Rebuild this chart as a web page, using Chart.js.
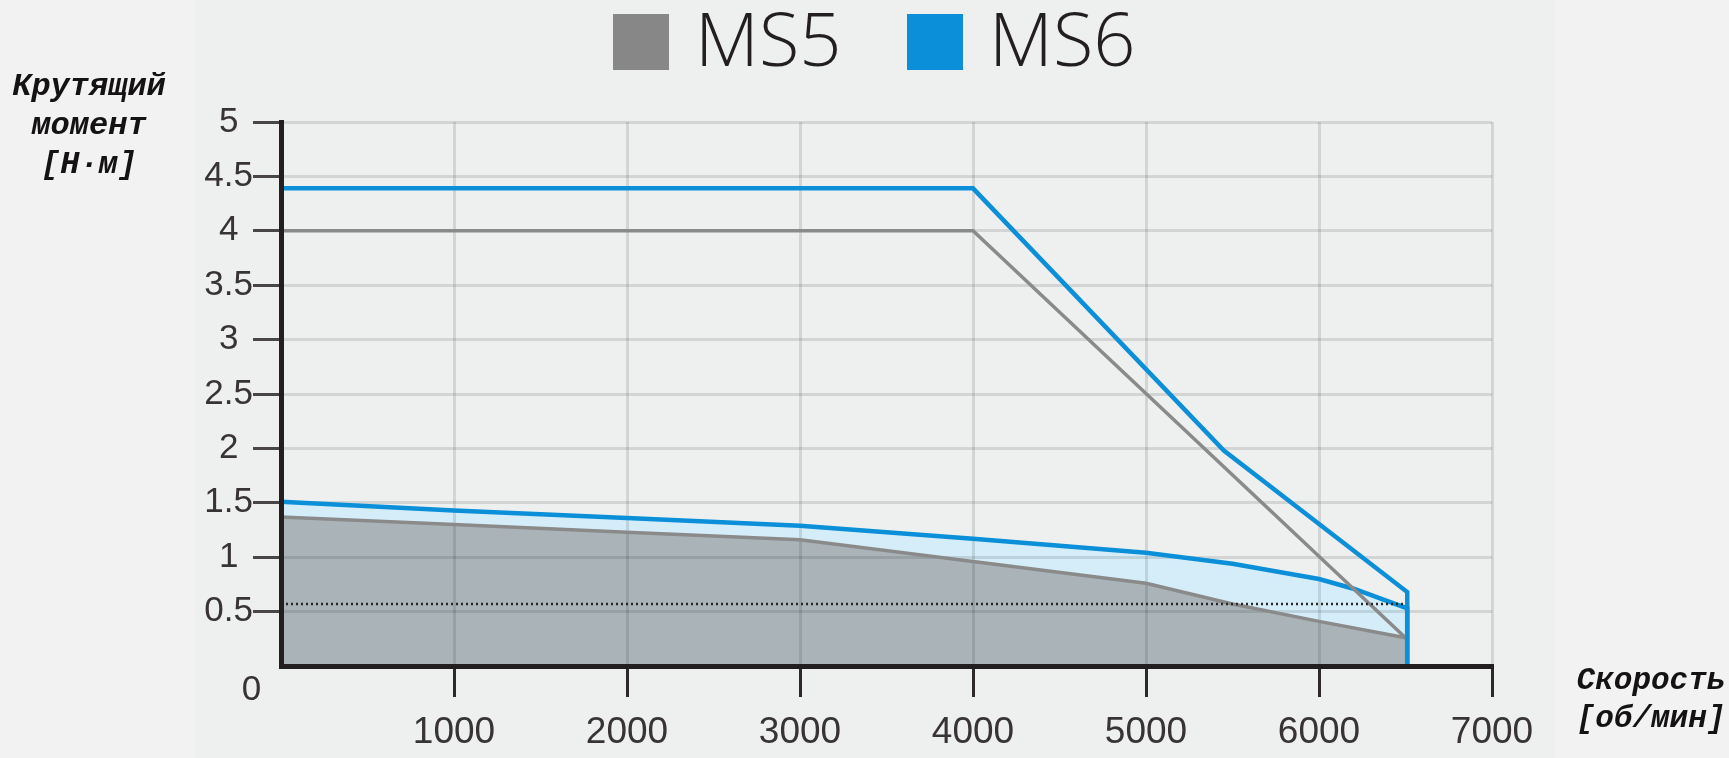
<!DOCTYPE html>
<html lang="ru">
<head>
<meta charset="utf-8">
<title>MS5 / MS6 — крутящий момент</title>
<script src="https://cdn.jsdelivr.net/npm/chart.js@4.4.1/dist/chart.umd.min.js"></script>
<style>
  html, body { margin: 0; padding: 0; }
  body { width: 1729px; height: 758px; background: #f2f2f2; position: relative; overflow: hidden; }
  #panel { position: absolute; left: 195px; top: 0; width: 1359px; height: 758px; background: #eef0ef; }
  #chart { position: absolute; left: 0; top: 0; }
  .legend-item { position: absolute; top: 14px; height: 56px; display: flex; align-items: center; }
  .legend-item .swatch { width: 56px; height: 56px; }
  .legend-item .name { margin-left: 26px; position: relative; top: -4px;
    font: 300 74px/56px "Open Sans", "Noto Sans", sans-serif; color: #231f20; }
</style>
</head>
<body>
<div id="panel"></div>
<canvas id="chart" width="1729" height="758"></canvas>
<div id="legend"></div>
<script>
// series names and legend colours
const seriesNames = ['MS5', 'MS6'];
const seriesColors = ['#878787', '#0a8fd8'];

// peak torque curves, speed in об/мин, torque in Н·м
const ms5PeakSpeed = [0, 0, 4000, 6500];
const ms5PeakTorque = [0, 4.0, 4.0, 0.26];
const ms6PeakSpeed = [0, 0, 4000, 5450, 6510, 6510];
const ms6PeakTorque = [0, 4.39, 4.39, 1.98, 0.68, 0];

// continuous torque curves
const ms5ContSpeed = [0, 1000, 2000, 3000, 4000, 5000, 5500, 6000, 6500];
const ms5ContTorque = [1.37, 1.30, 1.23, 1.16, 0.96, 0.76, 0.57, 0.41, 0.26];
const ms6ContSpeed = [0, 1000, 2000, 3000, 4000, 5000, 5500, 6000, 6200, 6510, 6510];
const ms6ContTorque = [1.51, 1.43, 1.36, 1.29, 1.17, 1.04, 0.94, 0.80, 0.71, 0.53, 0];

// rated torque level (dotted)
const ratedSpeed = [0, 6500];
const ratedTorque = [0.57, 0.57];

// axis ticks and titles
const speedTicks = [0, 1000, 2000, 3000, 4000, 5000, 6000, 7000];
const torqueTicks = [0, 0.5, 1, 1.5, 2, 2.5, 3, 3.5, 4, 4.5, 5];
const yTitleLines = ['Крутящий', 'момент', '[Н·м]'];
const xTitleLines = ['Скорость', '[об/мин]'];

const toPoints = (xs, ys) => xs.map((x, i) => ({ x: x, y: ys[i] }));

// legend in HTML, two items
const legendEl = document.getElementById('legend');
const legendLeft = [613, 907];
seriesNames.forEach((name, i) => {
    const item = document.createElement('div');
    item.className = 'legend-item';
    item.style.left = legendLeft[i] + 'px';
    item.innerHTML = '<div class="swatch" style="background:' + seriesColors[i] + '"></div>' +
        '<div class="name">' + name + '</div>';
    legendEl.appendChild(item);
});

const axisTitles = {
    id: 'axisTitles',
    afterDraw(chart) {
        const ctx = chart.ctx;
        ctx.save();
        ctx.fillStyle = '#141213';
        ctx.font = 'italic bold 32px "Liberation Mono", "DejaVu Sans Mono", monospace';
        ctx.textAlign = 'center';
        ctx.textBaseline = 'alphabetic';
        const yBase = [95, 134, 173];
        yTitleLines.forEach((line, i) => ctx.fillText(line, 89, yBase[i]));
        ctx.font = 'italic bold 31px "Liberation Mono", "DejaVu Sans Mono", monospace';
        const xBase = [689, 727];
        xTitleLines.forEach((line, i) => ctx.fillText(line, 1651, xBase[i]));
        // the torque zero sits under the corner, off its gridline
        ctx.font = '35px "Liberation Sans", Arial, sans-serif';
        ctx.fillStyle = '#383334';
        ctx.textBaseline = 'middle';
        ctx.fillText(String(torqueTicks[0]), 251.5, 690);
        ctx.restore();
    }
};

const tickColorFor = color => c => (c.tick && c.tick.value === 0 ? 'rgba(0,0,0,0)' : color);

new Chart(document.getElementById('chart'), {
    type: 'line',
    data: {
        datasets: [
            {
                label: 'rated',
                data: toPoints(ratedSpeed, ratedTorque),
                borderColor: '#2a2727',
                borderWidth: 2.5,
                borderDash: [2, 3],
                pointRadius: 0,
                fill: false,
                order: 0
            },
            {
                label: seriesNames[1] + ' peak',
                data: toPoints(ms6PeakSpeed, ms6PeakTorque),
                borderColor: seriesColors[1],
                borderWidth: 4.5,
                pointRadius: 0,
                fill: false,
                order: 1
            },
            {
                label: seriesNames[0] + ' peak',
                data: toPoints(ms5PeakSpeed, ms5PeakTorque),
                borderColor: '#8a8a8a',
                borderWidth: 3.5,
                pointRadius: 0,
                fill: false,
                order: 2
            },
            {
                label: seriesNames[0] + ' continuous',
                data: toPoints(ms5ContSpeed, ms5ContTorque),
                borderColor: '#8a8a8a',
                borderWidth: 3.5,
                backgroundColor: '#aab4b8',
                pointRadius: 0,
                fill: 'origin',
                order: 3
            },
            {
                label: seriesNames[1] + ' continuous',
                data: toPoints(ms6ContSpeed, ms6ContTorque),
                borderColor: seriesColors[1],
                borderWidth: 4.5,
                backgroundColor: '#d4edf9',
                pointRadius: 0,
                fill: 'origin',
                order: 4
            }
        ]
    },
    options: {
        responsive: false,
        animation: false,
        events: [],
        layout: { padding: { left: 0, top: 122, right: 237, bottom: 0 } },
        plugins: {
            legend: { display: false },
            tooltip: { enabled: false },
            filler: { drawTime: 'beforeDraw' }
        },
        scales: {
            x: {
                type: 'linear',
                min: speedTicks[0],
                max: speedTicks[speedTicks.length - 1],
                afterBuildTicks: scale => { scale.ticks = speedTicks.map(v => ({ value: v })); },
                afterFit: scale => { scale.height = 92; },
                grid: {
                    color: 'rgba(0,0,0,0.11)',
                    lineWidth: 3,
                    tickLength: 31,
                    tickWidth: 3,
                    tickColor: tickColorFor('#2d2829')
                },
                border: { color: '#231f20', width: 5, z: 1 },
                ticks: {
                    padding: 14,
                    maxRotation: 0,
                    autoSkip: false,
                    color: '#383334',
                    font: { family: '"Liberation Sans", Arial, sans-serif', size: 37 },
                    callback: v => (v === 0 ? '' : String(v))
                }
            },
            y: {
                min: torqueTicks[0],
                max: torqueTicks[torqueTicks.length - 1],
                afterBuildTicks: scale => { scale.ticks = torqueTicks.map(v => ({ value: v })); },
                afterFit: scale => { scale.width = 281; },
                grid: {
                    color: 'rgba(0,0,0,0.11)',
                    lineWidth: 3,
                    tickLength: 28,
                    tickWidth: 3,
                    tickColor: tickColorFor('#4a4546')
                },
                border: { color: '#231f20', width: 5, z: 1 },
                ticks: {
                    padding: 0,
                    crossAlign: 'center',
                    autoSkip: false,
                    color: '#383334',
                    font: { family: '"Liberation Sans", Arial, sans-serif', size: 35 },
                    callback: v => (v === 0 ? '' : String(v))
                }
            }
        }
    },
    plugins: [axisTitles]
});
</script>
</body>
</html>
